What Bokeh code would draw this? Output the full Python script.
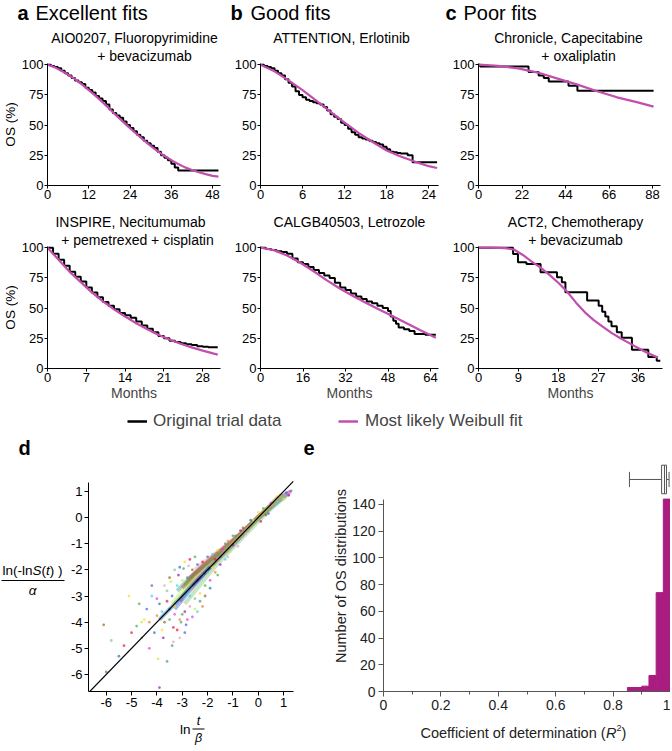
import math
from bokeh.plotting import figure
from bokeh.models import Range1d, Label, Legend, LegendItem, FixedTicker, BoxAnnotation
from bokeh.core.properties import value
from bokeh.layouts import column, row
from bokeh.embed import file_html
from bokeh.resources import INLINE

FONT = "Liberation Sans"
PINK = "#c24fad"
MAG = "#a91c80"

# ---------------- data: panels a/b/c (Kaplan-Meier curves vs most likely Weibull fit) ----------------
# a, top: AIO0207
aio_km_t = [0, 1, 2, 3, 4, 5, 6, 7, 8, 9, 10, 11, 12, 13, 14, 15, 16, 17, 18, 19, 20, 21, 22, 23, 24,
            25, 26, 27, 28, 29, 30, 31, 32, 33, 34, 35, 36, 37, 38, 49.7]
aio_km_s = [100, 99, 98, 97, 95, 93, 91, 89, 87, 85.5, 84, 81, 79, 77, 74, 72, 70, 67, 63, 60, 58, 56, 53, 50,
            47.5, 45, 42, 40, 37, 35, 33, 31, 28, 25, 23, 21, 18, 15, 12.5, 12.5]
aio_fit_t = [0, 2, 4, 6, 8, 10, 12, 14, 16, 18, 20, 22, 24, 26, 28, 30, 32, 34, 36, 38, 40, 42, 44, 46, 48, 49.7]
aio_fit_s = [100, 98, 95, 91.8, 88, 83.7, 79, 74.2, 69, 63.6, 58, 52.7, 47.5, 42.4, 37.5, 32.8, 28.5, 24.6,
             21, 17.8, 15, 12.8, 11, 9.4, 8, 7.3]

# b, top: ATTENTION
att_km_t = [0, 0.5, 1, 1.5, 2, 2.5, 3, 3.5, 4, 4.5, 5, 5.5, 6, 6.5, 7, 7.5, 8, 8.5, 9, 9.5, 10, 10.5, 11, 11.5,
            12, 12.5, 13, 13.5, 14, 14.5, 15, 15.5, 16, 16.5, 17, 17.5, 18, 18.5, 19, 19.5, 20, 21, 21.7, 25.2]
att_km_s = [100, 99, 98, 97, 95, 93, 91, 88, 85, 82, 78, 75, 73, 71, 70, 69, 68, 67, 65, 62, 59, 57, 55, 52,
            50, 47, 44, 42, 40, 39, 38, 37, 36, 35, 34, 32, 30, 28, 27.5, 27, 26.5, 25, 19.3, 19.3]
att_fit_t = [0, 2, 4, 6, 8, 10, 12, 14, 16, 18, 20, 22, 24, 25.2]
att_fit_s = [100, 94.5, 87, 79, 70, 61, 52, 43.5, 36, 29, 24, 19.8, 16, 14.5]

# c, top: Chronicle
chr_km_t = [0, 0.8, 25.3, 30.4, 33, 35.5, 45.5, 50, 88.5]
chr_km_s = [100, 98.6, 94, 91, 89, 86, 82.6, 78.5, 78.5]
chr_fit_t = [0, 10, 20, 30, 40, 50, 60, 70, 80, 88.5]
chr_fit_s = [100, 99, 97, 93.5, 88.5, 83.5, 78, 73, 69, 65.3]

# a, bottom: INSPIRE
ins_km_t = [0, 1, 2, 3, 4, 5, 6, 7, 8, 9, 10, 11, 12, 13, 14, 15, 16, 17, 18, 19, 20, 21, 22, 23, 24, 25,
            26, 27, 28, 29, 30.7]
ins_km_s = [100, 95, 90, 85, 80, 76, 72, 67, 63, 59, 55, 52, 49, 46, 44, 42, 39, 35.5, 33, 30, 27, 25, 23, 22,
            21, 20, 19.5, 18.5, 18, 17.5, 17.5]
ins_fit_t = [0, 2, 4, 6, 8, 10, 12, 14, 16, 18, 20, 22, 24, 26, 28, 30, 30.7]
ins_fit_s = [100, 90, 80, 71.5, 63, 55.5, 49, 43, 37.5, 32.5, 28, 24, 20.5, 17.5, 14.8, 12.3, 11.5]

# b, bottom: CALGB40503
cal_km_t = [0, 2, 4, 6, 8, 10, 12, 14, 16, 18, 20, 22, 24, 26, 28, 30, 32, 34, 36, 38, 40, 42, 44, 46, 48,
            49, 50, 51, 52, 54, 56, 58, 62, 66]
cal_km_s = [100, 99, 98, 97, 96.5, 95, 91, 88, 86.5, 84, 81.5, 79, 77, 75, 71, 67, 65, 62, 59.5, 57.5, 55.5,
            54, 52, 50, 47.5, 43, 39.5, 37, 34, 32.5, 31, 28.5, 28, 28]
cal_fit_t = [0, 5, 10, 15, 20, 25, 30, 35, 40, 45, 50, 55, 60, 66]
cal_fit_s = [100, 98, 93.5, 87.5, 80.5, 73, 66, 59.8, 54, 48.5, 43, 37.5, 31.8, 25.5]

# c, bottom: ACT2
act_km_t = [0, 7.8, 8.9, 10.8, 14, 17.7, 18.8, 19.6, 24.5, 27.1, 27.9, 28.6, 29.3, 30, 31.2, 32.3, 34.6,
            38.3, 40.2, 41]
act_km_s = [100, 94.8, 88, 86.5, 79.6, 75.5, 71.3, 63.1, 56.2, 52, 47, 43, 39, 35, 30, 25.5, 15.5, 9.5, 6.5, 6.5]
act_fit_t = [0, 3, 6, 8, 10, 12, 14, 16, 18, 20, 22, 24, 26, 28, 30, 32, 34, 36, 38, 40.5]
act_fit_s = [100, 100, 99.7, 98.5, 94, 88.5, 83.5, 77.5, 71, 63.5, 54.5, 46.5, 40, 34.7, 29.5, 25, 21, 17, 13, 9]

pct_ticks = [0, 25, 50, 75, 100]

# ---------------- data: panel d (linearised Weibull plot of all OS distributions) ----------------
ident = [-6.7, 1.39]
band_x = [
    [-3.1, -2.6, -2.1, -1.6, -1.1, -0.6, -0.1, 0.4, 0.9, 1.2],
    [-2.9, -2.4, -1.9, -1.4, -0.9, -0.4, 0.1, 0.6, 1.0],
    [-3.3, -2.8, -2.3, -1.8, -1.3, -0.8, -0.3, 0.2, 0.7, 1.1],
    [-2.7, -2.2, -1.7, -1.2, -0.7, -0.2, 0.3, 0.8, 1.25],
    [-3.0, -2.5, -2.0, -1.5, -1.0, -0.5, 0.0, 0.5, 1.0],
    [-2.8, -2.3, -1.8, -1.3, -0.8, -0.3, 0.2, 0.7],
    [-3.4, -2.9, -2.4, -1.9, -1.4, -0.9, -0.4, 0.1, 0.6, 1.1],
    [-2.6, -2.1, -1.6, -1.1, -0.6, -0.1, 0.4, 0.9],
    [-3.2, -2.7, -2.2, -1.7, -1.2, -0.7, -0.2, 0.3, 0.8, 1.2],
    [-2.5, -2.0, -1.5, -1.0, -0.5, 0.0, 0.5, 1.0, 1.3],
    [-3.0, -2.5, -2.0, -1.5, -1.0, -0.5, 0.0, 0.5],
    [-2.9, -2.4, -1.9, -1.4, -0.9, -0.4, 0.1, 0.6, 1.1],
    [-3.9, -3.3, -2.7, -2.15, -1.6, -1.1, -0.6, -0.1, 0.35, 0.8],
    [-1.9, -1.55, -1.15, -0.75, -0.3, 0.15, 0.55, 0.9],
]
band_y = [
    [-3.2, -2.5, -1.95, -1.45, -1.0, -0.55, -0.08, 0.35, 0.75, 0.92],
    [-2.6, -2.05, -1.6, -1.2, -0.8, -0.35, 0.08, 0.5, 0.82],
    [-3.5, -2.9, -2.35, -1.8, -1.3, -0.82, -0.3, 0.15, 0.6, 0.88],
    [-2.3, -1.85, -1.45, -1.05, -0.62, -0.15, 0.3, 0.68, 0.98],
    [-3.05, -2.45, -1.95, -1.45, -1.0, -0.5, -0.05, 0.4, 0.78],
    [-2.4, -1.95, -1.5, -1.1, -0.7, -0.25, 0.2, 0.62],
    [-3.3, -2.7, -2.2, -1.7, -1.25, -0.85, -0.4, 0.05, 0.5, 0.85],
    [-2.6, -2.1, -1.6, -1.15, -0.65, -0.12, 0.3, 0.72],
    [-2.8, -2.3, -1.9, -1.5, -1.1, -0.68, -0.2, 0.28, 0.7, 0.95],
    [-2.0, -1.6, -1.25, -0.9, -0.45, 0.05, 0.45, 0.8, 1.0],
    [-2.7, -2.15, -1.7, -1.3, -0.9, -0.45, 0.02, 0.42],
    [-3.3, -2.7, -2.1, -1.55, -1.05, -0.55, -0.05, 0.42, 0.82],
    [-3.9, -3.3, -2.7, -2.15, -1.6, -1.1, -0.6, -0.1, 0.35, 0.8],
    [-1.9, -1.55, -1.15, -0.75, -0.3, 0.15, 0.55, 0.9],
]
band_colors = ["#e6194b", "#3cb44b", "#4363d8", "#f032e6", "#42d4f4", "#f58231",
               "#bfef45", "#911eb4", "#469990", "#e8a0c0", "#9a6324", "#7fc97f", "#1f78b4", "#ffd92f"]
dot_x = [-3.6, -3.5, -3.4, -3.3, -3.2, -3.1, -3.0, -2.9, -2.8, -2.7, -2.6, -2.5, -2.4, -2.3, -2.2, -2.1,
         -2.0, -1.9, -1.8, -1.7, -1.6, -1.5, -1.3, -1.2, -3.7, -3.6, -3.9, -3.8, -3.35, -3.05, -2.85, -2.6,
         -2.4, -2.2, -3.45, -3.15, -2.95, -2.75,
         -6.1, -5.8, -5.5, -5.1, -5.0, -4.8, -4.4, -4.3, -4.2, -4.0, -3.95, -3.9, -3.6, -3.35, -6.0, -4.6,
         -4.1, -4.5, -5.3, -4.7,
         1.1, 1.25, 0.95, 0.6, -0.2, -0.7, -1.0, -0.5, 0.3, 0.8,
         -3.5, -3.3, -3.2, -3.0, -2.9, -2.8, -2.7, -2.6, -2.5, -2.4, -2.3, -2.2, -2.1, -2.0, -1.9, -1.8,
         -1.7, -1.6, -1.5, -1.4, -1.3, -1.2, -1.1, -1.0, -0.9, -0.8, -0.6, -0.4, -0.3, 0.0, 0.1, 0.2, 0.4,
         0.5, 0.7, 0.9, 1.0, 1.2, 1.3,
         -3.7, -3.5, -3.3, -3.1, -2.9, -2.7, -2.5, -4.2, -4.0, -3.8, -4.3, -4.6, -3.75, -3.4, -3.1]
dot_y = [-3.2, -3.9, -3.0, -3.7, -2.6, -3.9, -2.4, -3.6, -2.3, -3.4, -2.0, -3.1, -1.8, -2.9, -1.7, -2.6,
         -1.5, -2.4, -1.4, -2.1, -1.25, -1.8, -1.0, -1.5, -4.0, -2.8, -3.3, -4.3, -4.2, -4.0, -4.1, -3.8,
         -3.6, -3.4, -2.45, -2.2, -1.95, -1.85,
         -4.1, -4.7, -5.3, -3.0, -4.4, -4.15, -3.5, -5.0, -3.0, -3.75, -5.4, -6.5, -5.5, -4.75, -5.9, -4.6,
         -4.4, -3.9, -4.9, -3.3,
         0.95, 1.0, 0.9, 0.55, -0.1, -0.5, -0.7, -0.6, 0.1, 0.6,
         -3.5, -3.4, -4.3, -3.7, -4.4, -3.9, -3.0, -2.7, -3.5, -2.4, -3.2, -2.2, -3.0, -2.1, -2.7, -1.9,
         -1.6, -2.2, -1.5, -1.2, -1.6, -0.9, -1.3, -1.05, -0.7, -1.1, -0.4, -0.5, -0.1, 0.2, -0.15, 0.35, 0.15,
         0.55, 0.5, 0.85, 0.7, 0.85, 1.02,
         -2.6, -2.3, -2.0, -1.9, -1.7, -1.6, -1.5, -2.6, -3.1, -3.6, -4.0, -4.0, -4.6, -4.9, -4.6]

# ---------------- data: panel e (R^2 histogram + box plot) ----------------
r2_left = [0.85, 0.875, 0.9, 0.925, 0.95, 0.975]
r2_right = [0.875, 0.9, 0.925, 0.95, 0.975, 1.0]
r2_counts = [3, 3, 4, 12, 74, 144]
r2_lo, r2_q1, r2_med, r2_q3, r2_hi = 0.857, 0.969, 0.979, 0.986, 0.995

Y_PX = 1.208  # pixels per % on the survival axes


def style_axes(p, size="13px", color="black", tick_out=3, label_color="black", standoff=1):
    for ax in p.axis:
        ax.axis_line_color = color
        ax.axis_line_width = 1
        ax.major_tick_line_color = color
        ax.major_tick_out = tick_out
        ax.major_tick_in = 0
        ax.minor_tick_line_color = None
        ax.major_label_text_font = FONT
        ax.major_label_text_font_size = size
        ax.major_label_text_color = label_color
        ax.major_label_standoff = standoff
        ax.axis_label_text_font = FONT
        ax.axis_label_text_font_style = "normal"
    p.xgrid.visible = False
    p.ygrid.visible = False
    p.outline_line_color = None
    p.background_fill_color = "white"
    p.border_fill_color = "white"


def add_label(p, fl, fb, px, py, text, size, align="left", style="normal", angle=0.0, color="black"):
    # (fl, fb): page position of the frame's left / bottom edge; (px, py): page position of the text centre line
    p.add_layout(Label(x=px - fl, y=fb - py, x_units="screen", y_units="screen", text=text,
                       text_font=FONT, text_font_size=f"{size}px", text_font_style=style,
                       text_align=align, text_baseline="middle", angle=angle, text_color=color))


def text_fig(w, h, top=0, bottom=0):
    f = figure(width=w, height=h, x_range=Range1d(0, 1), y_range=Range1d(0, 1), toolbar_location=None,
               output_backend="svg", x_axis_location=None, y_axis_location=None, min_border=0,
               min_border_top=top, min_border_bottom=bottom, min_border_left=0, min_border_right=0)
    f.outline_line_color = None
    f.grid.visible = False
    return f


def km_panel(width, bl, br, frame_h, bb, xmax, ticks, km_t, km_s, fit_t, fit_s, months):
    p = figure(width=width, height=frame_h + bb, x_range=Range1d(0, xmax),
               y_range=Range1d(0, frame_h / Y_PX), toolbar_location=None, output_backend="svg",
               min_border_left=bl, min_border_right=br, min_border_top=0, min_border_bottom=bb)
    p.xaxis.ticker = FixedTicker(ticks=ticks)
    p.yaxis.ticker = FixedTicker(ticks=pct_ticks)
    p.yaxis.bounds = (0, 101)
    p.step(km_t, km_s, mode="after", line_color="black", line_width=2)
    p.line(fit_t, fit_s, line_color=PINK, line_width=2.2)
    style_axes(p)
    if months:
        p.xaxis.axis_label = "Months"
        p.xaxis.axis_label_text_font_size = "14px"
        p.xaxis.axis_label_standoff = 0
    return p


# ---- heading strip (page y 0..24) ----
h1 = text_fig(664, 24)
for px, txt, st in [(17, "a", "bold"), (35, "Excellent fits", "normal"), (230, "b", "bold"),
                    (250, "Good fits", "normal"), (445, "c", "bold"), (463, "Poor fits", "normal")]:
    add_label(h1, 0, 24, px, 12, txt, 20, style=st)

# ---- top row (page y 24..207, frames 24..185) ----
T_FB = 185
a1 = km_panel(206, 26, 4, 161, 22, 50.3, [0, 12, 24, 36, 48], aio_km_t, aio_km_s, aio_fit_t, aio_fit_s, False)
b1 = km_panel(220, 36, 6, 161, 22, 25.4, [0, 6, 12, 18, 24], att_km_t, att_km_s, att_fit_t, att_fit_s, False)
c1 = km_panel(220, 34, 4, 161, 22, 92, [0, 22, 44, 66, 88], chr_km_t, chr_km_s, chr_fit_t, chr_fit_s, False)
add_label(a1, 44, T_FB, 131, 37, "AIO0207, Fluoropyrimidine", 14, align="center")
add_label(a1, 44, T_FB, 141, 55, "+ bevacizumab", 14, align="center")
add_label(b1, 260, T_FB, 341, 37, "ATTENTION, Erlotinib", 14, align="center")
add_label(c1, 478, T_FB, 568, 37, "Chronicle, Capecitabine", 14, align="center")
add_label(c1, 478, T_FB, 578, 55, "+ oxaliplatin", 14, align="center")
os1 = text_fig(18, 183, bottom=22)
add_label(os1, 0, T_FB, 10, 124, "OS (%)", 13.5, align="center", angle=math.pi / 2)

# ---- bottom row (page y 207..408, frames 207..368) ----
B_FB = 368
a2 = km_panel(206, 26, 4, 161, 40, 31.2, [0, 7, 14, 21, 28], ins_km_t, ins_km_s, ins_fit_t, ins_fit_s, True)
b2 = km_panel(220, 36, 6, 161, 40, 67, [0, 16, 32, 48, 64], cal_km_t, cal_km_s, cal_fit_t, cal_fit_s, True)
c2 = km_panel(220, 34, 2, 161, 40, 41.5, [0, 9, 18, 27, 36], act_km_t, act_km_s, act_fit_t, act_fit_s, True)
add_label(a2, 44, B_FB, 127, 221, "INSPIRE, Necitumumab", 14, align="center")
add_label(a2, 44, B_FB, 134, 239, "+ pemetrexed + cisplatin", 14, align="center")
add_label(b2, 260, B_FB, 349, 221, "CALGB40503, Letrozole", 14, align="center")
add_label(c2, 478, B_FB, 575, 221, "ACT2, Chemotherapy", 14, align="center")
add_label(c2, 478, B_FB, 575, 239, "+ bevacizumab", 14, align="center")
os2 = text_fig(18, 201, bottom=40)
add_label(os2, 0, B_FB, 10, 307, "OS (%)", 13.5, align="center", angle=math.pi / 2)

# ---- legend strip (page y 408..434) ----
lf = text_fig(664, 26)
# legend proxies reuse the panel data; it lies outside this strip's (0..1) ranges, so only the swatches show
r_km = lf.line(aio_km_t, aio_km_s, line_color="black", line_width=2.5)
r_fit = lf.line(aio_fit_t, aio_fit_s, line_color=PINK, line_width=2.5)
for item_label, rend, xloc, stand in [("Original trial data", r_km, 127, 6), ("Most likely Weibull fit", r_fit, 338, 7)]:
    lg = Legend(items=[LegendItem(label=value(item_label), renderers=[rend])], location=(xloc, 3),
                glyph_width=20, glyph_height=20, label_standoff=stand, label_text_font=FONT,
                label_text_font_size="17px", padding=0, margin=0, border_line_color=None,
                background_fill_alpha=0, spacing=0, label_height=20)
    lf.add_layout(lg)

# ---- heading strip for d / e (page y 434..460) ----
h3 = text_fig(670, 26)
add_label(h3, 0, 460, 18, 447, "d", 20, style="bold")
add_label(h3, 0, 460, 303, 447, "e", 20, style="bold")

# ---- row with d-label, d, e (page y 460..714; frames 460..691) ----
R_FB = 691
dlab = text_fig(67, 254, bottom=23)
add_label(dlab, 0, R_FB, 2, 570, "ln(-ln", 13.5)
add_label(dlab, 0, R_FB, 32, 570, "S", 13.5, style="italic")
add_label(dlab, 0, R_FB, 41, 570, "(", 13.5)
add_label(dlab, 0, R_FB, 45.5, 570, "t", 13.5, style="italic")
add_label(dlab, 0, R_FB, 49.3, 570, ") )", 13.5)
dlab.add_layout(BoxAnnotation(left=1, right=64, bottom=R_FB - 580.5, top=R_FB - 579.5, left_units="screen",
                              right_units="screen", bottom_units="screen", top_units="screen",
                              fill_color="black", fill_alpha=1, line_color=None))
add_label(dlab, 0, R_FB, 32, 590, "α", 13.5, align="center", style="italic")

D_YPX = 26.16
pd = figure(width=233, height=254, x_range=Range1d(-6.70, 1.39), y_range=Range1d(-6.65, -6.65 + 231 / D_YPX),
            toolbar_location=None, output_backend="svg", min_border_left=18, min_border_right=7,
            min_border_top=0, min_border_bottom=23)
ticks_d = [-6, -5, -4, -3, -2, -1, 0, 1]
pd.xaxis.ticker = FixedTicker(ticks=ticks_d)
pd.yaxis.ticker = FixedTicker(ticks=ticks_d)
pd.yaxis.bounds = (-6.65, 1.34)
for bx, by, bc in zip(band_x, band_y, band_colors):
    pd.line(bx, by, line_color=bc, line_width=4, line_alpha=0.45)
dot_colors = [band_colors[i % len(band_colors)] for i in range(len(dot_x))]
pd.scatter(dot_x, dot_y, size=2.8, fill_color=dot_colors, line_color=None, fill_alpha=0.7)
pd.line(ident, ident, line_color="black", line_width=1.2)
style_axes(pd, size="13px", tick_out=4, standoff=2)
for ax in pd.axis:
    ax.major_label_overrides = {t: str(t) for t in ticks_d}

pe = figure(width=370, height=254, x_range=Range1d(0, 1.0), y_range=Range1d(0, 231 / 1.336),
            toolbar_location=None, output_backend="svg", min_border_left=83, min_border_right=0,
            min_border_top=0, min_border_bottom=23)
pe.xaxis.ticker = FixedTicker(ticks=[0, 0.2, 0.4, 0.6, 0.8, 1.0], minor_ticks=[0.1, 0.3, 0.5, 0.7, 0.9])
pe.yaxis.ticker = FixedTicker(ticks=[0, 20, 40, 60, 80, 100, 120, 140])
pe.quad(left=r2_left, right=r2_right, bottom=0, top=r2_counts, fill_color=MAG, line_color=MAG)
BY, BH, CH = 158.7, 10.7, 5.7  # box plot placement above the bars
pe.segment(x0=[r2_lo, r2_q3], y0=[BY, BY], x1=[r2_q1, r2_hi], y1=[BY, BY], line_color="#555555", line_width=1)
pe.segment(x0=[r2_lo, r2_hi], y0=[BY - CH, BY - CH], x1=[r2_lo, r2_hi], y1=[BY + CH, BY + CH],
           line_color="#555555", line_width=1)
pe.quad(left=[r2_q1], right=[r2_q3], bottom=[BY - BH], top=[BY + BH], fill_color="white", line_color="#555555")
pe.segment(x0=[r2_med], y0=[BY - BH], x1=[r2_med], y1=[BY + BH], line_color="#555555", line_width=1)
style_axes(pe, size="14px", color="#555555", tick_out=5, label_color="#222222", standoff=3)
pe.xaxis.minor_tick_line_color = "#555555"
pe.xaxis.minor_tick_out = 3
pe.xaxis.minor_tick_in = 0
pe.yaxis.bounds = (0, 144)
pe.yaxis.axis_label = "Number of OS distributions"
pe.yaxis.axis_label_text_font_size = "14.5px"
pe.yaxis.axis_label_standoff = 0
pe.yaxis.axis_label_text_color = "#222222"

# ---- x-label strip for d and e (page y 714..745) ----
X_FB = 745
dxl = text_fig(300, 31)
add_label(dxl, 0, X_FB, 190, 728.5, "ln", 13.5, align="right")
add_label(dxl, 0, X_FB, 198, 720, "t", 12.5, align="center", style="italic")
add_label(dxl, 0, X_FB, 198, 737.5, "β", 12.5, align="center", style="italic")
dxl.add_layout(BoxAnnotation(left=192, right=204, bottom=X_FB - 729, top=X_FB - 728,
                             left_units="screen", right_units="screen", bottom_units="screen",
                             top_units="screen", fill_color="black", fill_alpha=1, line_color=None))
exl = text_fig(370, 31)
add_label(exl, 300, X_FB, 420, 732, "Coefficient of determination (", 14.5, color="#222222")
add_label(exl, 300, X_FB, 605.5, 732, "R", 14.5, style="italic", color="#222222")
add_label(exl, 300, X_FB, 616, 727, "2", 9, color="#222222")
add_label(exl, 300, X_FB, 621, 732, ")", 14.5, color="#222222")

layout = column(
    h1,
    row(os1, a1, b1, c1),
    row(os2, a2, b2, c2),
    lf,
    h3,
    row(dlab, pd, pe),
    row(dxl, exl),
)
open("out.html", "w").write(file_html(layout, INLINE))
